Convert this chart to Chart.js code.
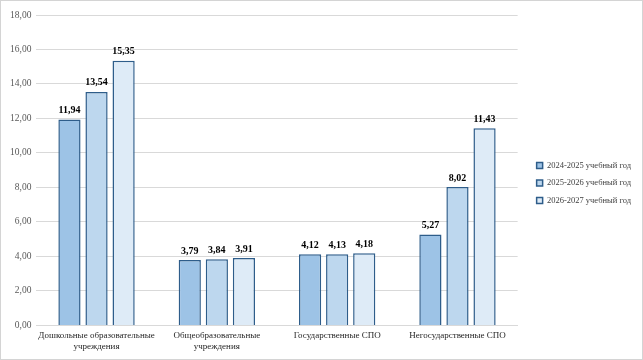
<!DOCTYPE html>
<html>
<head>
<meta charset="utf-8">
<script src="https://cdn.jsdelivr.net/npm/chart.js@4/dist/chart.umd.min.js"></script>
<style>
  html, body { margin: 0; padding: 0; background: #fff; }
  #wrap { width: 643px; height: 360px; box-sizing: border-box; border: 1px solid #d4d4d4; position: relative; }
</style>
</head>
<body>
<div id="wrap"><canvas id="myChart"></canvas></div>
<script>
const categories = [
  ['Дошкольные образовательные', 'учреждения'],
  ['Общеобразовательные', 'учреждения'],
  'Государственные СПО',
  'Негосударственные СПО'
];
const seriesNames = ['2024-2025 учебный год', '2025-2026 учебный год', '2026-2027 учебный год'];
const values2024 = [11.94, 3.79, 4.12, 5.27];
const values2025 = [13.54, 3.84, 4.13, 8.02];
const values2026 = [15.35, 3.91, 4.18, 11.43];
const yTicks = [0, 2, 4, 6, 8, 10, 12, 14, 16, 18];

const fills = ['#9dc3e6', '#bdd7ee', '#deebf7'];
const edge = '#2e5d8a';

function fmt(v) { return v.toFixed(2).replace('.', ','); }

// draws the value above each bar
const valueLabels = {
  id: 'valueLabels',
  afterDatasetsDraw(chart) {
    const ctx = chart.ctx;
    ctx.save();
    ctx.font = 'bold 10px "Liberation Serif"';
    ctx.fillStyle = '#000';
    ctx.textAlign = 'center';
    ctx.textBaseline = 'bottom';
    chart.data.datasets.forEach((ds, i) => {
      chart.getDatasetMeta(i).data.forEach((bar, j) => {
        ctx.fillText(fmt(ds.data[j]), bar.x, bar.y - 4);
      });
    });
    ctx.restore();
  }
};

// push the legend a bit further from the plot, like the original
const legendShift = {
  id: 'legendShift',
  afterLayout(chart) {
    const lg = chart.legend;
    const pad = lg.options.labels.padding;
    const dx = chart.chartArea.right + 19 - (lg.left + pad);
    lg.left += dx;
    lg.right += dx;
    lg.top -= 3;
    lg.bottom -= 3;
  }
};

const allData = [values2024, values2025, values2026];
const datasets = allData.map((d, i) => ({
  label: seriesNames[i],
  data: d,
  backgroundColor: fills[i],
  borderColor: edge,
  borderWidth: 1.5,
  barPercentage: 0.82,
  categoryPercentage: 0.675
}));

const ctx = document.getElementById('myChart');
new Chart(ctx, {
  type: 'bar',
  data: { labels: categories, datasets: datasets },
  options: {
    responsive: true,
    maintainAspectRatio: false,
    animation: false,
    layout: { padding: { top: 14, right: 11, left: 4, bottom: 2 } },
    plugins: {
      legend: {
        position: 'right',
        labels: {
          font: { family: 'Liberation Serif', size: 8.5 },
          color: '#404040',
          boxWidth: 6,
          boxHeight: 6,
          padding: 9
        }
      },
      tooltip: { enabled: false }
    },
    scales: {
      x: {
        grid: { display: false, drawTicks: false },
        border: { color: '#d9d9d9', width: 1 },
        ticks: {
          font: { family: 'Liberation Serif', size: 9 },
          color: '#262626',
          maxRotation: 0,
          autoSkip: false,
          padding: 5
        }
      },
      y: {
        min: 0,
        max: 18,
        afterBuildTicks(axis) { axis.ticks = yTicks.map(v => ({ value: v })); },
        grid: { color: '#d9d9d9', lineWidth: 1, drawTicks: false },
        border: { display: false },
        ticks: {
          font: { family: 'Liberation Serif', size: 9.5 },
          color: '#595959',
          padding: 5,
          callback: v => fmt(v)
        }
      }
    }
  },
  plugins: [valueLabels, legendShift]
});
</script>
</body>
</html>
